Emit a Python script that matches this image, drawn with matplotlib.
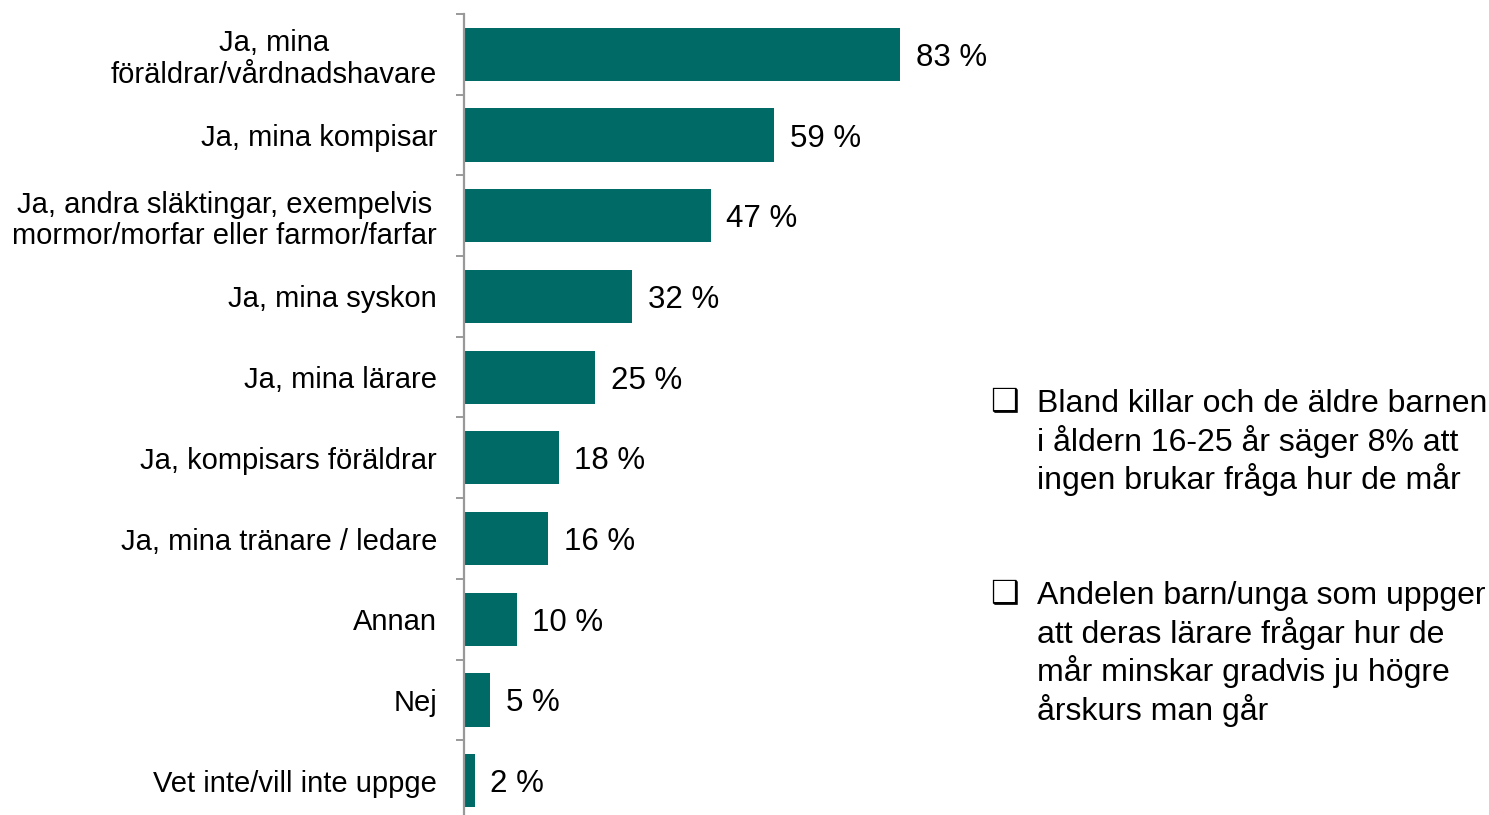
import numpy as np
import matplotlib.pyplot as plt

plt.rcParams['font.family'] = ['Liberation Sans', 'DejaVu Sans']

kategorier = [
    "Ja, mina\nföräldrar/vårdnadshavare",
    "Ja, mina kompisar",
    "Ja, andra släktingar, exempelvis\nmormor/morfar eller farmor/farfar",
    "Ja, mina syskon",
    "Ja, mina lärare",
    "Ja, kompisars föräldrar",
    "Ja, mina tränare / ledare",
    "Annan",
    "Nej",
    "Vet inte/vill inte uppge",
]
andel = [83, 59, 47, 32, 25, 18, 16, 10, 5, 2]

punkter = [
    "Bland killar och de äldre barnen\ni åldern 16-25 år säger 8% att\ningen brukar fråga hur de mår",
    "Andelen barn/unga som uppger\natt deras lärare frågar hur de\nmår minskar gradvis ju högre\nårskurs man går",
]

fig = plt.figure(figsize=(14.89, 8.15), dpi=100)
ax = fig.add_axes([464 / 1489, -6 / 815, 525 / 1489, 807 / 815])

y = np.arange(len(kategorier))
ax.barh(y, andel, height=0.66, color="#006A66")
ax.set_xlim(0, 100)
ax.set_ylim(len(kategorier) - 0.5, -0.5)

# värdeetiketter
for yi, v in zip(y, andel):
    ax.text(v + 3, yi, f"{v} %", va="center_baseline", ha="left", fontsize=22.5)

ax.set_yticks(y)
ax.set_yticklabels(kategorier, fontsize=21, linespacing=1.17,
                   multialignment="center")
ax.set_yticks(np.arange(-0.5, len(kategorier)), minor=True)
ax.tick_params(axis="y", which="major", length=0, pad=19.5)
ax.tick_params(axis="y", which="minor", length=6, width=1.4, color="#999999")
ax.set_xticks([])
for s in ["top", "right", "bottom"]:
    ax.spines[s].set_visible(False)
ax.spines["left"].set_color("#999999")
ax.spines["left"].set_linewidth(1.6)

# kommentarer till höger
for ty, txt in zip([403, 595], punkter):
    fig.text(990 / 1489, 1 - ty / 815, "❑", fontsize=23, va="center", ha="left",
             family="DejaVu Sans", fontweight="bold")
    fig.text(1037 / 1489, 1 - (ty - 14) / 815, txt, fontsize=23, va="top",
             ha="left", linespacing=1.22)

fig.savefig("out.png", dpi=100)
